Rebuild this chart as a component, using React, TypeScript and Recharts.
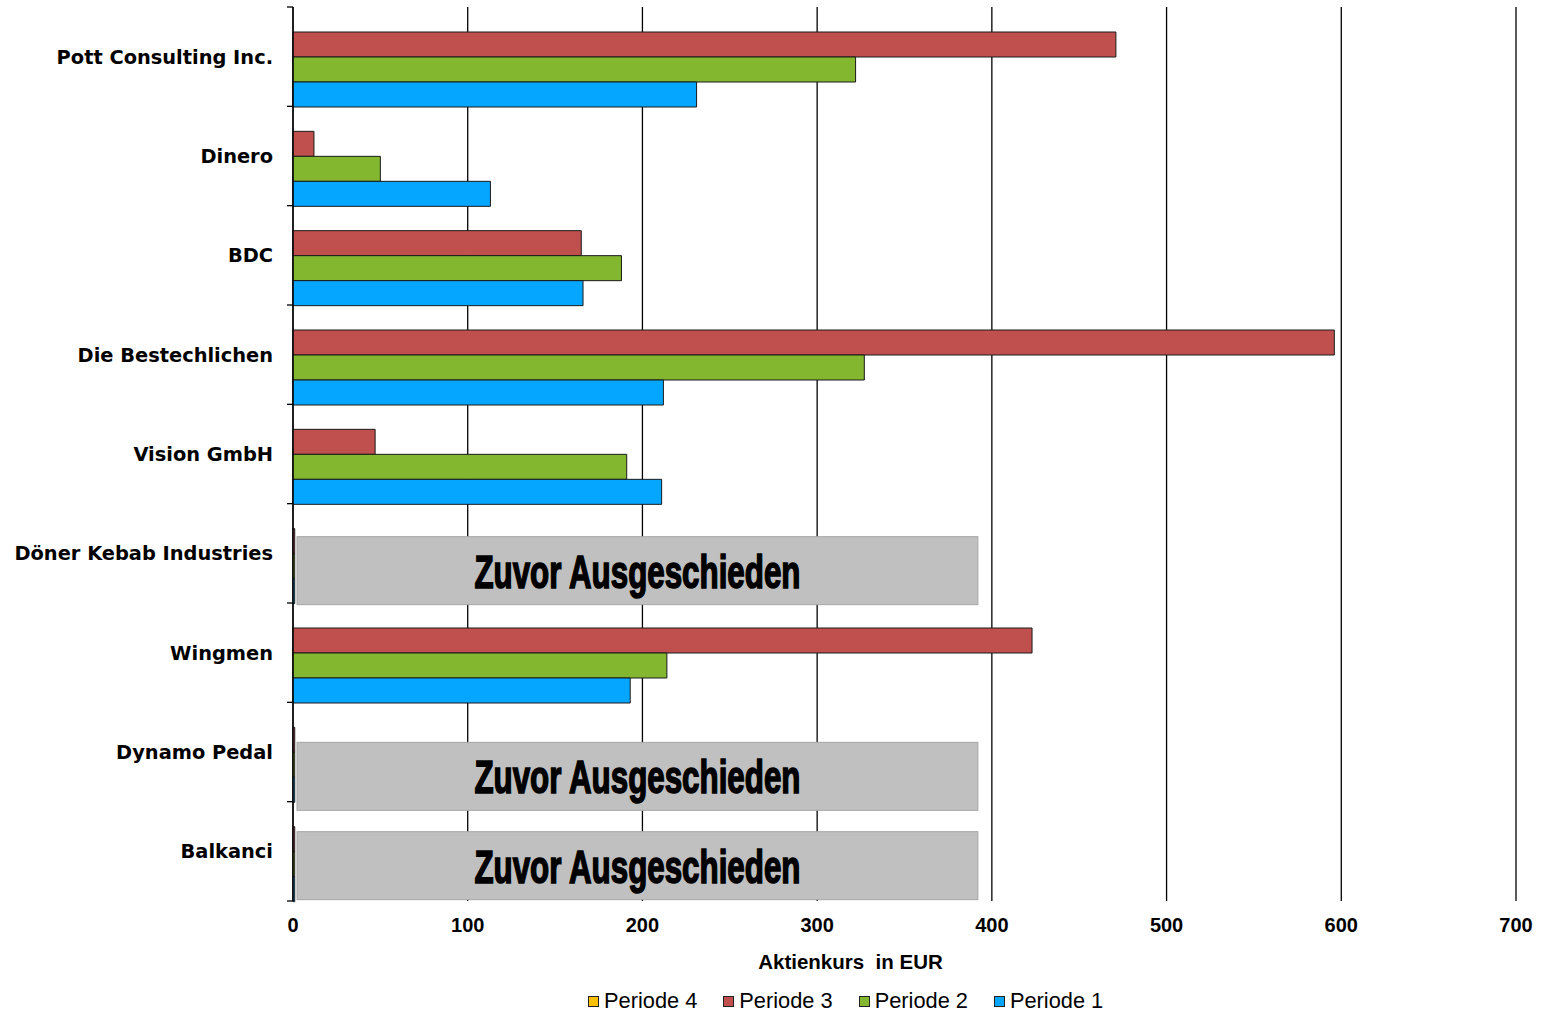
import React from 'react';
import {
  BarChart,
  Bar,
  XAxis,
  YAxis,
  CartesianGrid,
  Legend,
  ReferenceArea,
  Label,
} from 'recharts';

// ---------- data ----------
const categories = [
  'Pott Consulting Inc.',
  'Dinero',
  'BDC',
  'Die Bestechlichen',
  'Vision GmbH',
  'Döner Kebab Industries',
  'Wingmen',
  'Dynamo Pedal',
  'Balkanci',
];
const periode4 = [0, 0, 0, 0, 0, 0, 0, 0, 0];
const periode3 = [471, 12, 165, 596, 47, 1, 423, 1, 1];
const periode2 = [322, 50, 188, 327, 191, 1, 214, 1, 1];
const periode1 = [231, 113, 166, 212, 211, 1, 193, 1, 1];
const xTicks = [0, 100, 200, 300, 400, 500, 600, 700];
const seriesNames = ['Periode 4', 'Periode 3', 'Periode 2', 'Periode 1'];
const ausgeschieden = ['Döner Kebab Industries', 'Dynamo Pedal', 'Balkanci'];
const noteText = 'Zuvor Ausgeschieden';
const axisTitle = 'Aktienkurs  in EUR';

// ---------- layout / style ----------
const W = 1546;
const H = 1013;
const MARGIN = { top: 7, right: 30, left: 10, bottom: 12 };
const YAXIS_W = 283;
const XAXIS_H = 100;
const PLOT_H = H - MARGIN.top - MARGIN.bottom - XAXIS_H;
const BAND = PLOT_H / categories.length;
const BOX_DY = [33, 40, 30];
const BOX_H = 68;
const colors = ['#FFC000', '#C0504D', '#83B72F', '#05A6FF'];
const keys = ['p4', 'p3', 'p2', 'p1'];

const data = categories.map((name, i) => ({
  name,
  p4: periode4[i],
  p3: periode3[i],
  p2: periode2[i],
  p1: periode1[i],
}));

const YTick = (props: any) => {
  const { x, y, payload, index } = props;
  const last = index === categories.length - 1;
  return (
    <g>
      <line x1={x - 6} x2={x} y1={y - BAND / 2} y2={y - BAND / 2} stroke="#000" strokeWidth={1.3} />
      {last && (
        <line x1={x - 6} x2={x} y1={y + BAND / 2} y2={y + BAND / 2} stroke="#000" strokeWidth={1.3} />
      )}
      <text
        x={x - 20}
        y={y}
        dy="0.36em"
        textAnchor="end"
        fontFamily="'DejaVu Sans', Verdana, sans-serif"
        fontWeight="bold"
        fontSize={19.4}
        fill="#000"
      >
        {payload.value}
      </text>
    </g>
  );
};

const XTick = (props: any) => {
  const { x, y, payload } = props;
  return (
    <text
      x={x}
      y={y + 31}
      textAnchor="middle"
      fontFamily="'Liberation Sans', Arial, sans-serif"
      fontWeight="bold"
      fontSize={20}
      fill="#000"
    >
      {payload.value}
    </text>
  );
};

const AxisTitle = (props: any) => {
  const vb = props.viewBox || {};
  return (
    <text
      x={vb.x + vb.width / 2 - 54}
      y={vb.y + 68}
      textAnchor="middle"
      fontFamily="'Liberation Sans', Arial, sans-serif"
      fontWeight="bold"
      fontSize={20.5}
      fill="#000"
      style={{ whiteSpace: 'pre' }}
    >
      {axisTitle}
    </text>
  );
};

const makeBoxShape = (dy: number) => (props: any) => {
  const { x, y, width } = props;
  const top = y + dy;
  return (
    <g>
      <rect x={x} y={top} width={width} height={BOX_H} fill="#C0C0C0" stroke="#A6A6A6" strokeWidth={1} />
      <text
        x={x + width / 2}
        y={top + 51}
        textAnchor="middle"
        fontFamily="'Liberation Sans Narrow', 'Liberation Sans', sans-serif"
        fontWeight="bold"
        fontSize={46}
        textLength={326}
        lengthAdjust="spacingAndGlyphs"
        fill="#000"
        stroke="#000"
        strokeWidth={1.6}
      >
        {noteText}
      </text>
    </g>
  );
};

const LegendContent = () => (
  <div
    style={{
      display: 'flex',
      alignItems: 'center',
      fontFamily: "'Liberation Sans', Arial, sans-serif",
      fontSize: 21.8,
      color: '#000',
      whiteSpace: 'nowrap',
      lineHeight: '24px',
    }}
  >
    {seriesNames.map((n, i) => (
      <div key={n} style={{ display: 'flex', alignItems: 'center', marginRight: i < 3 ? 26 : 0 }}>
        <span
          style={{
            display: 'inline-block',
            width: 9,
            height: 9,
            background: colors[i],
            border: '1px solid #222',
            marginRight: 5,
          }}
        />
        <span>{n}</span>
      </div>
    ))}
  </div>
);

export default function App() {
  return (
    <div style={{ position: 'absolute', left: 0, top: 0, width: W, height: H, background: '#fff' }}>
      <BarChart
        width={W}
        height={H}
        data={data}
        layout="vertical"
        margin={MARGIN}
        barCategoryGap={0}
        barGap={0}
      >
        <CartesianGrid horizontal={false} vertical stroke="#000" strokeWidth={1.3} />
        <XAxis
          type="number"
          domain={[0, 700]}
          ticks={xTicks}
          interval={0}
          axisLine={false}
          tickLine={false}
          tickSize={0}
          tickMargin={0}
          height={XAXIS_H}
          tick={XTick}
        >
          <Label content={AxisTitle} />
        </XAxis>
        <YAxis
          type="category"
          dataKey="name"
          width={YAXIS_W}
          axisLine={{ stroke: '#000', strokeWidth: 1.3 }}
          tickLine={false}
          tickSize={0}
          tickMargin={0}
          interval={0}
          tick={YTick}
        />
        <Legend
          layout="horizontal"
          verticalAlign="middle"
          align="center"
          content={LegendContent}
          wrapperStyle={{ top: 989, left: 588, width: 'auto', height: 24 }}
        />
        {keys.map((k, i) => (
          <Bar
            key={k}
            dataKey={k}
            name={seriesNames[i]}
            fill={colors[i]}
            stroke="#1a1a1a"
            strokeWidth={1}
            isAnimationActive={false}
          />
        ))}
        {ausgeschieden.map((c, i) => (
          <ReferenceArea
            key={c}
            x1={2.3}
            x2={392}
            y1={c}
            y2={c}
            ifOverflow="visible"
            shape={makeBoxShape(BOX_DY[i])}
          />
        ))}
      </BarChart>
    </div>
  );
}
